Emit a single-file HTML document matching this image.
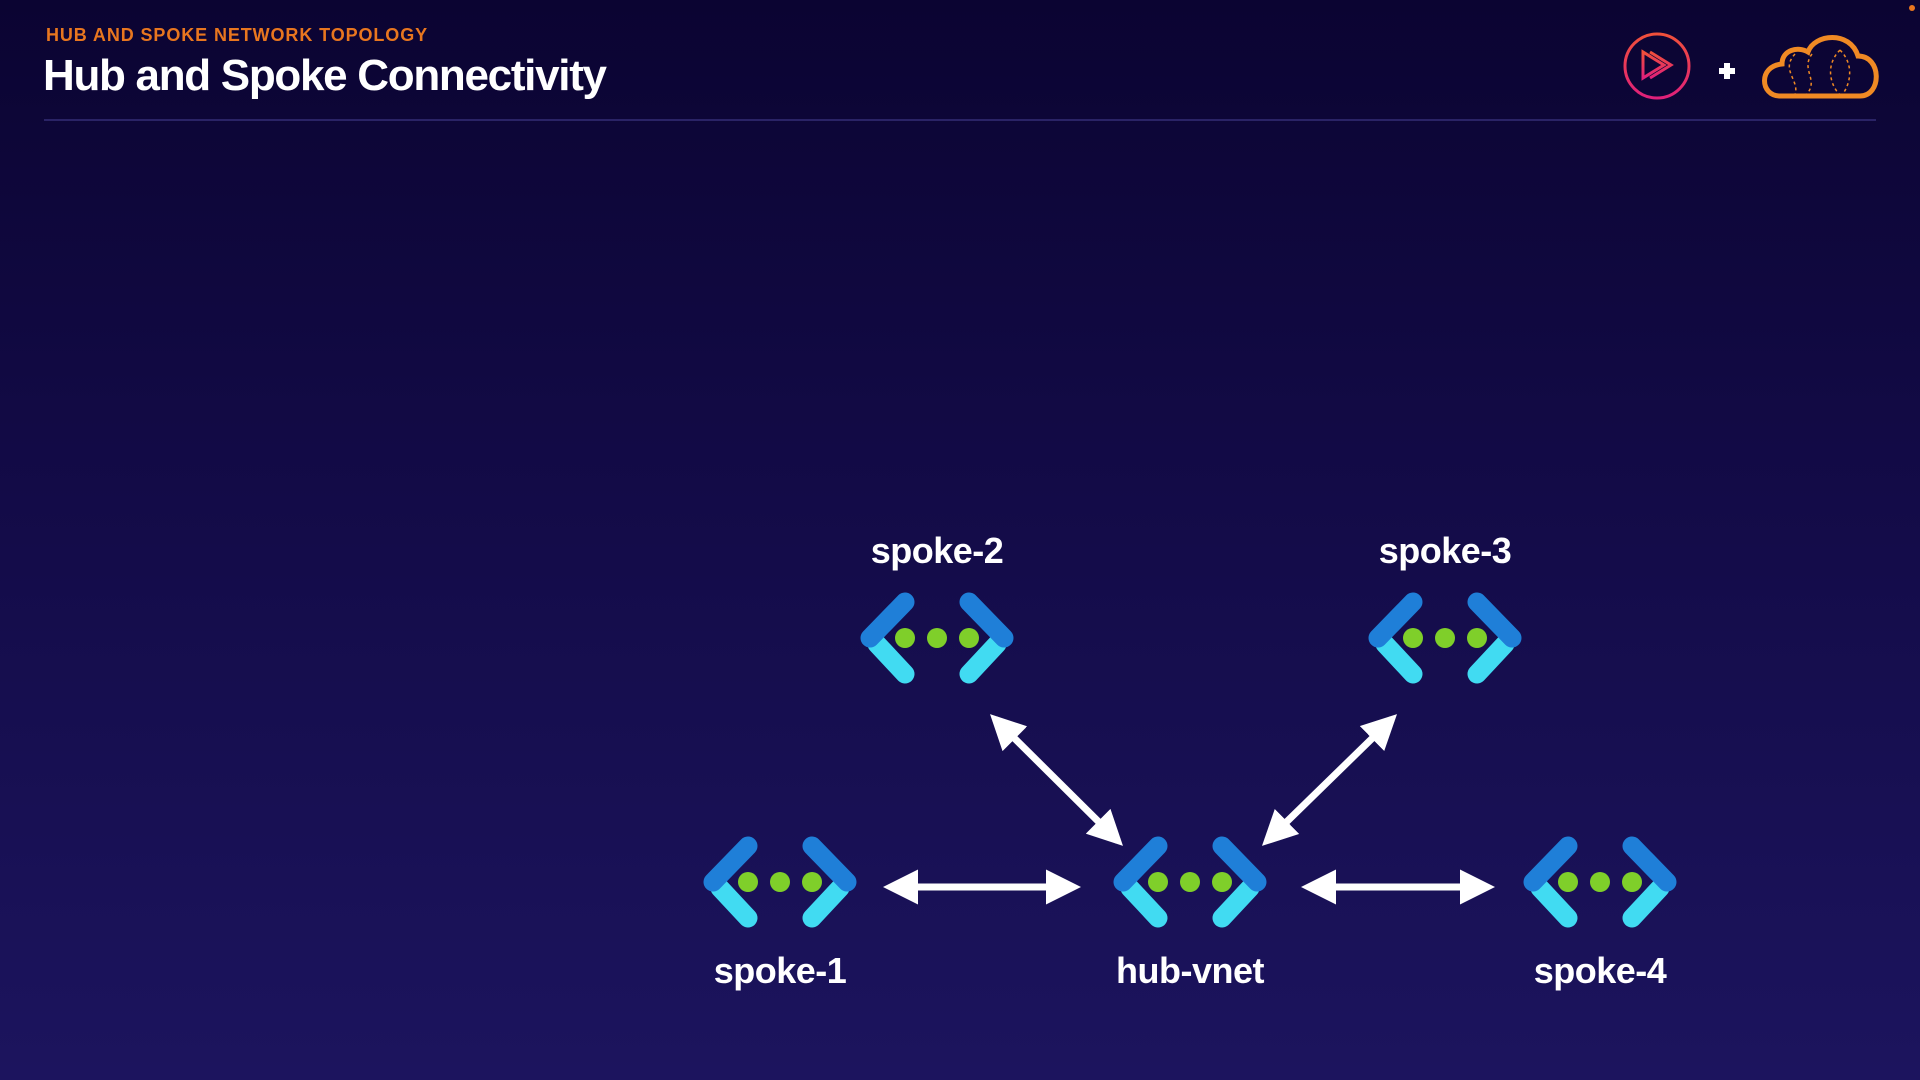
<!DOCTYPE html>
<html><head><meta charset="utf-8"><style>
html,body{margin:0;padding:0}
body{width:1920px;height:1080px;overflow:hidden;background:linear-gradient(180deg,#0b0432 0%,#120a45 40%,#1c145e 100%);font-family:"Liberation Sans",sans-serif;position:relative}
.sub{position:absolute;left:46px;top:25px;color:#e8761f;font-weight:bold;font-size:18px;letter-spacing:0.9px}
.title{position:absolute;left:43px;top:51px;color:#fff;font-weight:bold;font-size:44px;letter-spacing:-1.3px}
.rule{position:absolute;left:44px;top:119px;width:1832px;height:2px;background:#2a2366}
.lbl{position:absolute;color:#fff;font-weight:bold;font-size:36px;width:300px;text-align:center;letter-spacing:-0.5px}
</style></head><body>
<div class="sub">HUB AND SPOKE NETWORK TOPOLOGY</div>
<div class="title">Hub and Spoke Connectivity</div>
<div class="rule"></div>
<svg width="1920" height="1080" style="position:absolute;left:0;top:0">
<defs>
<linearGradient id="pg" x1="0" y1="0" x2="0" y2="1"><stop offset="0" stop-color="#f0503a"/><stop offset="1" stop-color="#e0207a"/></linearGradient>
<g id="ic">
<line x1="-60" y1="6" x2="-32" y2="36" stroke="#41dbf2" stroke-width="19" stroke-linecap="round"/>
<line x1="60" y1="6" x2="32" y2="36" stroke="#41dbf2" stroke-width="19" stroke-linecap="round"/>
<line x1="-67" y1="0" x2="-32" y2="-36" stroke="#1f7fd8" stroke-width="19" stroke-linecap="round"/>
<line x1="67" y1="0" x2="32" y2="-36" stroke="#1f7fd8" stroke-width="19" stroke-linecap="round"/>
<circle cx="-32" cy="0" r="10" fill="#7fcf2a"/><circle cx="0" cy="0" r="10" fill="#7fcf2a"/><circle cx="32" cy="0" r="10" fill="#7fcf2a"/>
</g>
<marker id="ah" markerWidth="5" markerHeight="5" refX="4" refY="2.5" orient="auto-start-reverse" markerUnits="strokeWidth"><path d="M0,0 L5,2.5 L0,5 Z" fill="#fff"/></marker>
</defs>
<use href="#ic" x="780" y="882"/>
<use href="#ic" x="1190" y="882"/>
<use href="#ic" x="1600" y="882"/>
<use href="#ic" x="937" y="638"/>
<use href="#ic" x="1445" y="638"/>
<g stroke="#fff" stroke-width="7" fill="none">
<line x1="890" y1="887" x2="1074" y2="887" marker-start="url(#ah)" marker-end="url(#ah)"/>
<line x1="1308" y1="887" x2="1488" y2="887" marker-start="url(#ah)" marker-end="url(#ah)"/>
<line x1="995" y1="719" x2="1118" y2="841" marker-start="url(#ah)" marker-end="url(#ah)"/>
<line x1="1392" y1="719" x2="1267" y2="841" marker-start="url(#ah)" marker-end="url(#ah)"/>
</g>
<circle cx="1657" cy="66" r="32" fill="none" stroke="url(#pg)" stroke-width="3"/>
<path d="M1643,52 L1643,78 L1664,65 Z M1650,52 L1671,65 L1650,78" fill="none" stroke="url(#pg)" stroke-width="3"/>
<path d="M1719,71 h16 M1727,63 v16" stroke="#fff" stroke-width="6"/>
<path d="M1780,96 C1760,96 1758,66 1782,64 C1782,50 1798,46 1808,52 C1814,34 1850,30 1858,56 C1882,56 1882,96 1860,96 Z" fill="none" stroke="#f08a24" stroke-width="5"/>
<path d="M1795,54 C1780,70 1800,80 1795,95 M1812,54 C1800,70 1820,80 1806,95 M1840,50 C1825,65 1830,85 1840,95 M1840,50 C1855,65 1850,85 1842,95" fill="none" stroke="#f08a24" stroke-width="1.5" stroke-dasharray="3 3"/>
<circle cx="1912" cy="8" r="3" fill="#e8761f"/>
</svg>
<div class="lbl" style="left:787px;top:530px">spoke-2</div>
<div class="lbl" style="left:1295px;top:530px">spoke-3</div>
<div class="lbl" style="left:630px;top:950px">spoke-1</div>
<div class="lbl" style="left:1040px;top:950px">hub-vnet</div>
<div class="lbl" style="left:1450px;top:950px">spoke-4</div>
</body></html>
